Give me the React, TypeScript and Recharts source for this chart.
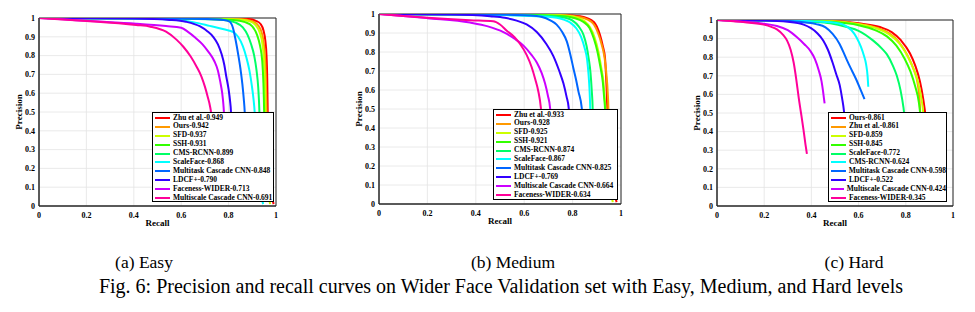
import React from 'react';
import { LineChart, Line, XAxis, YAxis, CartesianGrid, ReferenceArea, Legend } from 'recharts';

type Pt = [number, number]; // [recall, precision]

// Line colours, in legend order (hsv-style ramp)
const seriesColors = ['#ff0000', '#ff9900', '#ccff00', '#33ff00', '#00ff66', '#00ffff', '#0066ff', '#3300ff', '#cc00ff', '#ff0099'];

const xTicks = [0, 0.2, 0.4, 0.6, 0.8, 1];
const yTicks = [0, 0.1, 0.2, 0.3, 0.4, 0.5, 0.6, 0.7, 0.8, 0.9, 1];

// ---------- Easy ----------
const easyLabels = ['Zhu et al.-0.949', 'Ours-0.942', 'SFD-0.937', 'SSH-0.931', 'CMS-RCNN-0.899', 'ScaleFace-0.868', 'Multitask Cascade CNN-0.848', 'LDCF+-0.790', 'Faceness-WIDER-0.713', 'Multiscale Cascade CNN-0.691'];
const easyZhu: Pt[] = [[0, 1], [0.3, 0.999], [0.6, 0.998], [0.88, 0.995], [0.915, 0.985], [0.935, 0.968], [0.947, 0.935], [0.955, 0.88], [0.96, 0.8], [0.963, 0.68], [0.965, 0.5], [0.968, 0.2], [0.99, 0.01]];
const easyOurs: Pt[] = [[0, 1], [0.3, 0.999], [0.6, 0.998], [0.85, 0.993], [0.9, 0.983], [0.925, 0.96], [0.94, 0.92], [0.949, 0.86], [0.955, 0.76], [0.958, 0.62], [0.96, 0.5], [0.963, 0.2]];
const easySFD: Pt[] = [[0, 1], [0.3, 0.999], [0.6, 0.998], [0.84, 0.992], [0.89, 0.982], [0.915, 0.96], [0.932, 0.92], [0.943, 0.86], [0.95, 0.76], [0.954, 0.62], [0.956, 0.5], [0.96, 0.2], [0.975, 0.01]];
const easySSH: Pt[] = [[0, 1], [0.3, 0.999], [0.6, 0.997], [0.82, 0.99], [0.87, 0.978], [0.9, 0.955], [0.92, 0.91], [0.933, 0.85], [0.942, 0.77], [0.947, 0.65], [0.95, 0.5], [0.953, 0.2]];
const easyCMS: Pt[] = [[0, 1], [0.3, 0.999], [0.6, 0.996], [0.78, 0.99], [0.83, 0.975], [0.86, 0.95], [0.88, 0.91], [0.895, 0.86], [0.908, 0.8], [0.918, 0.72], [0.925, 0.63], [0.93, 0.5], [0.935, 0.2]];
const easyScaleFace: Pt[] = [[0, 1], [0.3, 0.998], [0.5, 0.995], [0.6, 0.988], [0.65, 0.978], [0.72, 0.958], [0.78, 0.94], [0.82, 0.925], [0.84, 0.9], [0.86, 0.85], [0.875, 0.79], [0.888, 0.72], [0.898, 0.64], [0.905, 0.57], [0.91, 0.5], [0.92, 0.2], [0.946, 0.01]];
const easyMultitask: Pt[] = [[0, 1], [0.3, 0.999], [0.5, 0.998], [0.7, 0.995], [0.78, 0.99], [0.805, 0.98], [0.815, 0.96], [0.822, 0.93], [0.83, 0.88], [0.84, 0.81], [0.85, 0.73], [0.858, 0.65], [0.864, 0.57], [0.868, 0.5], [0.875, 0.2]];
const easyLDCF: Pt[] = [[0, 1], [0.2, 0.999], [0.4, 0.997], [0.55, 0.99], [0.62, 0.98], [0.68, 0.955], [0.71, 0.93], [0.735, 0.9], [0.755, 0.86], [0.77, 0.81], [0.782, 0.75], [0.79, 0.69], [0.8, 0.62], [0.806, 0.56], [0.81, 0.5], [0.815, 0.2]];
const easyFaceness: Pt[] = [[0, 1], [0.1, 0.993], [0.2, 0.985], [0.41, 0.97], [0.536, 0.957], [0.6, 0.948], [0.63, 0.925], [0.66, 0.895], [0.69, 0.86], [0.715, 0.82], [0.74, 0.77], [0.755, 0.72], [0.765, 0.66], [0.773, 0.6], [0.778, 0.54], [0.782, 0.45], [0.786, 0.2]];
const easyMultiscale: Pt[] = [[0, 1], [0.1, 0.992], [0.2, 0.984], [0.41, 0.963], [0.47, 0.954], [0.536, 0.927], [0.58, 0.885], [0.609, 0.847], [0.64, 0.795], [0.665, 0.741], [0.685, 0.69], [0.7, 0.635], [0.712, 0.58], [0.722, 0.528], [0.73, 0.45], [0.738, 0.2]];

// ---------- Medium ----------
const mediumLabels = ['Zhu et al.-0.933', 'Ours-0.928', 'SFD-0.925', 'SSH-0.921', 'CMS-RCNN-0.874', 'ScaleFace-0.867', 'Multitask Cascade CNN-0.825', 'LDCF+-0.769', 'Multiscale Cascade CNN-0.664', 'Faceness-WIDER-0.634'];
const medZhu: Pt[] = [[0, 1], [0.3, 0.999], [0.6, 0.998], [0.75, 0.995], [0.831, 0.988], [0.86, 0.978], [0.886, 0.96], [0.9, 0.935], [0.913, 0.89], [0.925, 0.83], [0.934, 0.768], [0.938, 0.68], [0.941, 0.593], [0.943, 0.505], [0.945, 0.3], [0.982, 0.01]];
const medOurs: Pt[] = [[0, 1], [0.3, 0.999], [0.6, 0.998], [0.75, 0.994], [0.82, 0.986], [0.86, 0.972], [0.888, 0.945], [0.905, 0.9], [0.92, 0.84], [0.932, 0.77], [0.94, 0.68], [0.945, 0.59], [0.948, 0.5], [0.95, 0.3]];
const medSFD: Pt[] = [[0, 1], [0.3, 0.999], [0.6, 0.997], [0.75, 0.993], [0.817, 0.982], [0.85, 0.962], [0.872, 0.93], [0.89, 0.88], [0.906, 0.805], [0.918, 0.72], [0.927, 0.647], [0.933, 0.55], [0.936, 0.5], [0.94, 0.3], [0.966, 0.01]];
const medSSH: Pt[] = [[0, 1], [0.3, 0.999], [0.6, 0.996], [0.75, 0.99], [0.81, 0.978], [0.845, 0.958], [0.87, 0.926], [0.888, 0.87], [0.903, 0.8], [0.915, 0.72], [0.925, 0.64], [0.931, 0.55], [0.934, 0.5], [0.937, 0.3]];
const medCMS: Pt[] = [[0, 1], [0.3, 0.998], [0.5, 0.996], [0.7, 0.99], [0.77, 0.98], [0.8, 0.965], [0.825, 0.935], [0.845, 0.89], [0.858, 0.83], [0.866, 0.77], [0.874, 0.69], [0.879, 0.6], [0.883, 0.5], [0.886, 0.3]];
const medScaleFace: Pt[] = [[0, 1], [0.3, 0.998], [0.5, 0.995], [0.7, 0.985], [0.76, 0.972], [0.79, 0.955], [0.815, 0.925], [0.835, 0.88], [0.85, 0.82], [0.86, 0.76], [0.866, 0.68], [0.87, 0.6], [0.873, 0.5], [0.876, 0.3]];
const medMultitask: Pt[] = [[0, 1], [0.3, 0.999], [0.5, 0.997], [0.62, 0.992], [0.67, 0.985], [0.71, 0.965], [0.734, 0.944], [0.757, 0.905], [0.776, 0.856], [0.79, 0.79], [0.803, 0.716], [0.815, 0.65], [0.824, 0.593], [0.838, 0.505], [0.845, 0.3]];
const medLDCF: Pt[] = [[0, 1], [0.3, 0.997], [0.459, 0.988], [0.52, 0.98], [0.569, 0.965], [0.61, 0.945], [0.652, 0.905], [0.69, 0.845], [0.72, 0.78], [0.745, 0.7], [0.762, 0.635], [0.775, 0.565], [0.784, 0.505], [0.79, 0.3]];
const medMultiscale: Pt[] = [[0, 1], [0.1, 0.99], [0.2, 0.978], [0.376, 0.955], [0.45, 0.935], [0.514, 0.905], [0.56, 0.87], [0.596, 0.835], [0.63, 0.785], [0.652, 0.745], [0.672, 0.69], [0.686, 0.635], [0.698, 0.57], [0.707, 0.505], [0.715, 0.3]];
const medFaceness: Pt[] = [[0, 1], [0.1, 0.99], [0.2, 0.98], [0.376, 0.967], [0.472, 0.962], [0.5, 0.945], [0.528, 0.912], [0.56, 0.878], [0.583, 0.842], [0.61, 0.785], [0.631, 0.72], [0.646, 0.655], [0.658, 0.595], [0.669, 0.505], [0.68, 0.3]];

// ---------- Hard ----------
const hardLabels = ['Ours-0.861', 'Zhu et al.-0.861', 'SFD-0.859', 'SSH-0.845', 'ScaleFace-0.772', 'CMS-RCNN-0.624', 'Multitask Cascade CNN-0.598', 'LDCF+-0.522', 'Multiscale Cascade CNN-0.424', 'Faceness-WIDER-0.345'];
const hardOurs: Pt[] = [[0, 1], [0.3, 0.998], [0.48, 0.995], [0.6, 0.982], [0.69, 0.962], [0.74, 0.935], [0.78, 0.89], [0.818, 0.82], [0.84, 0.755], [0.86, 0.67], [0.874, 0.575], [0.884, 0.48], [0.89, 0.4]];
const hardZhu: Pt[] = [[0, 1], [0.3, 0.998], [0.48, 0.994], [0.6, 0.979], [0.68, 0.957], [0.73, 0.928], [0.77, 0.883], [0.805, 0.815], [0.83, 0.745], [0.85, 0.66], [0.858, 0.575], [0.862, 0.48], [0.865, 0.4]];
const hardSFD: Pt[] = [[0, 1], [0.3, 0.998], [0.48, 0.993], [0.6, 0.977], [0.68, 0.953], [0.73, 0.922], [0.775, 0.872], [0.81, 0.8], [0.835, 0.73], [0.855, 0.65], [0.867, 0.57], [0.875, 0.48], [0.878, 0.4]];
const hardSSH: Pt[] = [[0, 1], [0.3, 0.997], [0.48, 0.99], [0.6, 0.972], [0.67, 0.946], [0.72, 0.912], [0.76, 0.862], [0.795, 0.792], [0.82, 0.722], [0.84, 0.642], [0.855, 0.56], [0.862, 0.48], [0.866, 0.4]];
const hardScaleFace: Pt[] = [[0, 1], [0.3, 0.995], [0.4, 0.99], [0.48, 0.982], [0.55, 0.962], [0.6, 0.942], [0.662, 0.889], [0.7, 0.845], [0.72, 0.815], [0.745, 0.755], [0.762, 0.7], [0.778, 0.62], [0.79, 0.53], [0.797, 0.45], [0.8, 0.4]];
const hardCMS: Pt[] = [[0, 1], [0.3, 0.997], [0.45, 0.99], [0.5, 0.985], [0.535, 0.975], [0.57, 0.945], [0.592, 0.905], [0.61, 0.855], [0.622, 0.81], [0.632, 0.76], [0.638, 0.7], [0.641, 0.641]];
const hardMultitask: Pt[] = [[0, 1], [0.25, 0.998], [0.35, 0.99], [0.42, 0.978], [0.46, 0.96], [0.49, 0.925], [0.52, 0.87], [0.545, 0.8], [0.565, 0.745], [0.59, 0.68], [0.61, 0.62], [0.625, 0.575]];
const hardLDCF: Pt[] = [[0, 1], [0.2, 0.997], [0.3, 0.99], [0.367, 0.975], [0.424, 0.93], [0.45, 0.89], [0.47, 0.84], [0.49, 0.77], [0.505, 0.71], [0.52, 0.65], [0.53, 0.58], [0.538, 0.51], [0.545, 0.4]];
const hardMultiscale: Pt[] = [[0, 1], [0.1, 0.992], [0.2, 0.98], [0.254, 0.968], [0.3, 0.945], [0.339, 0.907], [0.37, 0.87], [0.395, 0.835], [0.415, 0.79], [0.431, 0.73], [0.443, 0.67], [0.449, 0.62], [0.453, 0.58], [0.456, 0.552]];
const hardFaceness: Pt[] = [[0, 1], [0.1, 0.99], [0.198, 0.975], [0.23, 0.963], [0.254, 0.95], [0.28, 0.92], [0.297, 0.889], [0.312, 0.84], [0.325, 0.77], [0.336, 0.68], [0.346, 0.584], [0.356, 0.5], [0.367, 0.405], [0.375, 0.33], [0.381, 0.28]];

const subCaptions = ['(a) Easy', '(b) Medium', '(c) Hard'];
const figCaption = 'Fig. 6: Precision and recall curves on Wider Face Validation set with Easy, Medium, and Hard levels';

const FONT = '"Liberation Serif", "Times New Roman", serif';

const panels = [
  {
    curves: [easyZhu, easyOurs, easySFD, easySSH, easyCMS, easyScaleFace, easyMultitask, easyLDCF, easyFaceness, easyMultiscale],
    labels: easyLabels,
    left: 0, width: 300, margin: { top: 18, right: 24, bottom: 4, left: 14 },
    legend: { left: 152, top: 112, width: 122, height: 90 },
  },
  {
    curves: [medZhu, medOurs, medSFD, medSSH, medCMS, medScaleFace, medMultitask, medLDCF, medMultiscale, medFaceness],
    labels: mediumLabels,
    left: 340, width: 300, margin: { top: 14, right: 19, bottom: 6, left: 14 },
    legend: { left: 153, top: 109, width: 125, height: 91 },
  },
  {
    curves: [hardOurs, hardZhu, hardSFD, hardSSH, hardScaleFace, hardCMS, hardMultitask, hardLDCF, hardMultiscale, hardFaceness],
    labels: hardLabels,
    left: 680, width: 295, margin: { top: 20, right: 22, bottom: 4, left: 12 },
    legend: { left: 148, top: 112, width: 119, height: 90 },
  },
];

const captionCenters = [144, 513, 854];

const fmt = (v: number) => String(v);
const tickStyle = { fontFamily: FONT, fontWeight: 700, fontSize: 8, fill: '#000' };
const titleStyle = { fontFamily: FONT, fontWeight: 700, fontSize: 9, fill: '#000' };

function LegendBox({ labels }: { labels: string[] }) {
  return (
    <div
      style={{
        width: '100%',
        height: '100%',
        boxSizing: 'border-box',
        border: '1px solid #000',
        background: '#fff',
        paddingTop: 0.5,
      }}
    >
      {labels.map((t, i) => (
        <div key={t} style={{ display: 'flex', alignItems: 'center', height: 8.9 }}>
          <div style={{ width: 15, height: 2, marginLeft: 2, background: seriesColors[i] }} />
          <span
            style={{
              marginLeft: 3,
              fontFamily: FONT,
              fontWeight: 700,
              fontSize: 7.5,
              lineHeight: '8.9px',
              whiteSpace: 'nowrap',
              color: '#000',
            }}
          >
            {t}
          </span>
        </div>
      ))}
    </div>
  );
}

function Panel({ cfg }: { cfg: (typeof panels)[number] }) {
  return (
    <div style={{ position: 'absolute', left: cfg.left, top: 0 }}>
      <LineChart width={cfg.width} height={232} margin={cfg.margin}>
        <CartesianGrid stroke="#e4e4e4" strokeWidth={0.8} />
        <XAxis
          type="number"
          dataKey="r"
          domain={[0, 1]}
          ticks={xTicks}
          tickFormatter={fmt}
          allowDataOverflow
          interval={0}
          height={22}
          tickLine={false}
          tickSize={4}
          tickMargin={2}
          tick={tickStyle}
          axisLine={{ stroke: '#262626' }}
          label={{ value: 'Recall', position: 'insideBottom', offset: 2, style: titleStyle }}
        />
        <YAxis
          type="number"
          domain={[0, 1]}
          ticks={yTicks}
          tickFormatter={fmt}
          allowDataOverflow
          interval={0}
          width={25}
          tickLine={false}
          tickSize={2}
          tickMargin={2}
          tick={tickStyle}
          axisLine={{ stroke: '#262626' }}
          label={{ value: 'Precision', angle: -90, position: 'insideLeft', offset: 5, style: { ...titleStyle, textAnchor: 'middle' } }}
        />
        <ReferenceArea x1={0} x2={1} y1={0} y2={1} fill="none" stroke="#262626" strokeWidth={1} ifOverflow="visible" />
        {cfg.curves.map((c, i) => (
          <Line
            key={cfg.labels[i]}
            name={cfg.labels[i]}
            data={c.map(([r, p]) => ({ r, p }))}
            dataKey="p"
            type="monotone"
            stroke={seriesColors[i]}
            strokeWidth={2}
            dot={false}
            activeDot={false}
            isAnimationActive={false}
          />
        ))}
        <Legend
          layout="horizontal"
          align="center"
          verticalAlign="middle"
          wrapperStyle={{ ...cfg.legend, position: 'absolute' }}
          content={() => <LegendBox labels={cfg.labels} />}
        />
      </LineChart>
    </div>
  );
}

export default function App() {
  return (
    <div
      style={{
        position: 'absolute',
        left: 0,
        top: 0,
        width: 975,
        height: 312,
        background: '#fff',
        overflow: 'hidden',
        fontFamily: FONT,
      }}
    >
      {panels.map((p, i) => (
        <Panel key={i} cfg={p} />
      ))}
      {subCaptions.map((t, i) => (
        <div
          key={t}
          style={{
            position: 'absolute',
            left: captionCenters[i],
            top: 252,
            transform: 'translateX(-50%)',
            whiteSpace: 'nowrap',
            fontSize: 17.5,
            lineHeight: '20px',
            color: '#000',
          }}
        >
          {t}
        </div>
      ))}
      <div
        style={{
          position: 'absolute',
          left: 501,
          top: 275,
          transform: 'translateX(-50%)',
          whiteSpace: 'nowrap',
          fontSize: 20,
          lineHeight: '22px',
          color: '#000',
        }}
      >
        {figCaption}
      </div>
    </div>
  );
}
